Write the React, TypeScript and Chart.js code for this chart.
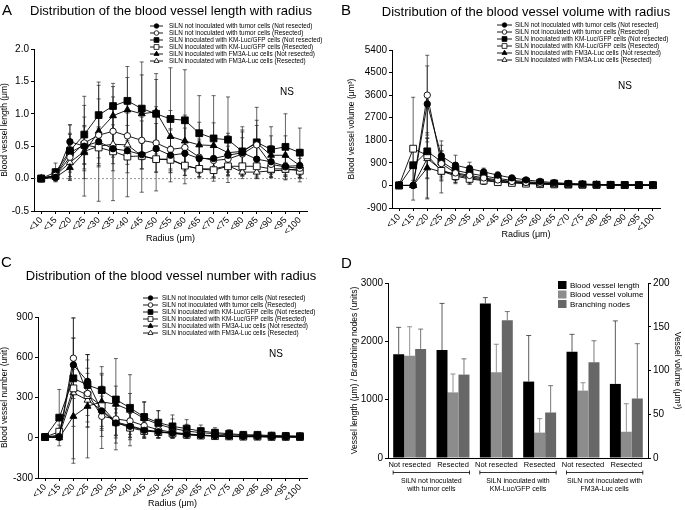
import React, { useEffect, useRef } from 'react';
import { Chart, registerables } from 'chart.js';

Chart.register(...registerables);

const FONT = '"Liberation Sans", Arial, Helvetica, sans-serif';
Chart.defaults.font.family = FONT;
Chart.defaults.color = '#000';

// ---------- shared ----------
const radiusLabels = ['<10', '<15', '<20', '<25', '<30', '<35', '<40', '<45', '<50', '<55', '<60', '<65', '<70', '<75', '<80', '<85', '<90', '<95', '<100'];
const seriesNames = [
  'SiLN not inoculated with tumor cells (Not resected)',
  'SiLN not inoculated with tumor cells (Resected)',
  'SiLN inoculated with KM-Luc/GFP cells (Not resected)',
  'SiLN inoculated with KM-Luc/GFP cells (Resected)',
  'SiLN inoculated with FM3A-Luc cells (Not resected)',
  'SiLN inoculated with FM3A-Luc cells (Resected)',
];

// ---------- A: blood vessel length ----------
const lengthNotInocNR = [0, 0.02, 0.57, 0.5, 0.57, 0.46, 0.43, 0.37, 0.46, 0.36, 0.39, 0.31, 0.31, 0.36, 0.4, 0.3, 0.26, 0.19, 0.2];
const lengthNotInocNRErr = [0, 0.05, 0.26, 0.77, 0.92, 0.8, 0.71, 0.58, 0.65, 0.41, 0.47, 0.3, 0.3, 0.3, 0.35, 0.3, 0.25, 0.2, 0.2];
const lengthNotInocR = [0, 0.05, 0.33, 0.55, 0.67, 0.73, 0.66, 0.59, 0.55, 0.45, 0.48, 0.33, 0.28, 0.3, 0.38, 0.52, 0.22, 0.18, 0.16];
const lengthNotInocRErr = [0, 0.1, 0.35, 0.4, 0.35, 0.4, 0.35, 0.3, 0.3, 0.3, 0.3, 0.25, 0.2, 0.2, 0.25, 0.3, 0.2, 0.15, 0.15];
const lengthKmNR = [0, 0.1, 0.43, 0.68, 0.98, 1.12, 1.2, 1.08, 1.0, 0.92, 0.9, 0.7, 0.62, 0.6, 0.42, 0.56, 0.45, 0.49, 0.4];
const lengthKmNRErr = [0, 0.14, 0.4, 0.45, 0.46, 0.35, 0.53, 0.72, 0.62, 0.79, 0.78, 0.58, 0.66, 0.66, 0.38, 0.54, 0.35, 0.51, 0.38];
const lengthKmR = [0, 0.05, 0.4, 0.52, 0.48, 0.42, 0.34, 0.35, 0.3, 0.29, 0.2, 0.15, 0.13, 0.19, 0.19, 0.19, 0.15, 0.15, 0.12];
const lengthKmRErr = [0, 0.08, 0.3, 0.3, 0.3, 0.3, 0.25, 0.2, 0.2, 0.2, 0.15, 0.12, 0.12, 0.15, 0.15, 0.15, 0.12, 0.1, 0.1];
const lengthFmNR = [0, 0.02, 0.17, 0.4, 0.73, 0.97, 1.06, 1.0, 1.03, 0.65, 0.58, 0.52, 0.51, 0.4, 0.42, 0.55, 0.36, 0.36, 0.2];
const lengthFmNRErr = [0, 0.05, 0.2, 0.4, 0.5, 0.45, 0.5, 0.6, 0.5, 0.4, 0.4, 0.35, 0.35, 0.3, 0.3, 0.35, 0.3, 0.3, 0.25];
const lengthFmR = [0, 0.05, 0.25, 0.42, 0.5, 0.53, 0.52, 0.35, 0.3, 0.3, 0.2, 0.15, 0.15, 0.2, 0.1, 0.1, 0.12, 0.13, 0.15];
const lengthFmRErr = [0, 0.08, 0.25, 0.3, 0.3, 0.3, 0.3, 0.2, 0.2, 0.2, 0.15, 0.12, 0.12, 0.15, 0.1, 0.1, 0.1, 0.1, 0.1];

// ---------- B: blood vessel volume ----------
const volNotInocNR = [0, 0, 3250, 1175, 805, 675, 540, 410, 300, 220, 160, 110, 80, 60, 40, 30, 25, 20, 15];
const volNotInocNRErr = [0, 0, 1515, 600, 400, 250, 150, 130, 100, 80, 60, 40, 30, 25, 20, 15, 12, 10, 8];
const volNotInocR = [0, 0, 3600, 870, 500, 400, 300, 220, 160, 120, 90, 65, 50, 40, 30, 25, 20, 15, 12];
const volNotInocRErr = [0, 0, 1590, 500, 300, 200, 150, 120, 90, 70, 50, 35, 25, 20, 15, 12, 10, 8, 6];
const volKmNR = [0, 805, 1360, 950, 600, 480, 380, 280, 200, 150, 110, 80, 55, 40, 30, 25, 20, 15, 12];
const volKmNRErr = [0, 600, 1900, 650, 300, 250, 200, 150, 100, 80, 60, 40, 30, 25, 20, 15, 12, 10, 8];
const volKmR = [0, 1465, 1200, 580, 370, 260, 190, 130, 100, 70, 50, 40, 30, 25, 20, 15, 12, 10, 8];
const volKmRErr = [0, 2050, 900, 400, 300, 200, 150, 100, 80, 60, 40, 30, 25, 20, 15, 12, 10, 8, 6];
const volFmNR = [0, 0, 700, 540, 475, 345, 260, 190, 140, 100, 70, 50, 40, 30, 25, 20, 15, 12, 10];
const volFmNRErr = [0, 0, 1200, 840, 350, 300, 200, 150, 100, 80, 60, 40, 30, 25, 20, 15, 12, 10, 8];
const volFmR = [0, 0, 1070, 620, 420, 300, 220, 160, 120, 90, 65, 50, 35, 28, 20, 15, 12, 10, 8];
const volFmRErr = [0, 0, 800, 400, 300, 200, 150, 120, 90, 70, 50, 35, 25, 20, 15, 12, 10, 8, 6];

// ---------- C: blood vessel number ----------
const numNotInocNR = [5, 5, 543, 420, 200, 110, 85, 55, 45, 35, 25, 18, 15, 12, 10, 10, 8, 8, 6];
const numNotInocNRErr = [0, 20, 200, 200, 280, 150, 100, 60, 50, 40, 30, 20, 15, 12, 10, 10, 8, 8, 6];
const numNotInocR = [5, 10, 593, 330, 160, 140, 125, 90, 60, 40, 30, 20, 15, 12, 10, 10, 8, 6, 6];
const numNotInocRErr = [0, 30, 300, 250, 150, 120, 100, 80, 60, 40, 30, 20, 15, 12, 10, 10, 8, 6, 6];
const numKmNR = [5, 150, 443, 393, 355, 285, 223, 155, 113, 85, 68, 50, 38, 30, 22, 22, 16, 14, 12];
const numKmNRErr = [0, 210, 300, 227, 175, 100, 107, 115, 90, 85, 67, 45, 37, 30, 20, 20, 15, 12, 10];
const numKmR = [5, 45, 368, 318, 235, 115, 75, 50, 42, 32, 22, 16, 12, 10, 8, 8, 6, 6, 5];
const numKmRErr = [0, 50, 525, 200, 150, 100, 70, 50, 40, 30, 20, 15, 12, 10, 8, 8, 6, 6, 5];
const numFmNR = [5, 0, 160, 235, 268, 250, 205, 143, 100, 70, 50, 38, 30, 22, 18, 16, 14, 12, 10];
const numFmNRErr = [0, 10, 350, 385, 200, 340, 265, 120, 100, 70, 50, 35, 30, 22, 18, 15, 14, 12, 10];
const numFmR = [5, 20, 335, 280, 205, 118, 90, 60, 45, 35, 25, 18, 14, 10, 8, 8, 6, 6, 5];
const numFmRErr = [0, 30, 250, 200, 150, 120, 90, 60, 45, 35, 25, 18, 14, 10, 8, 8, 6, 6, 5];

// ---------- D: bar summary ----------
const dCategories = ['Not resected', 'Resected', 'Not resected', 'Resected', 'Not resected', 'Resected'];
const dLength = [1780, 1850, 2650, 1310, 1820, 1270];
const dLengthErr = [460, 800, 100, 790, 300, 1080];
const dVolume = [117, 75, 98, 29, 77, 30];
const dVolumeErr = [33, 21, 32, 16, 9, 32];
const dNodes = [1870, 1430, 2360, 780, 1640, 1020];
const dNodesErr = [340, 270, 150, 460, 370, 940];
const dGroupLabels = [
  ['SiLN not inoculated', 'with tumor cells'],
  ['SiLN inoculated with', 'KM-Luc/GFP cells'],
  ['SiLN not inoculated with', 'FM3A-Luc cells'],
];
const dSeriesNames = ['Blood vessel length', 'Blood vessel volume', 'Branching nodes'];
const dColors = ['#000000', '#8c8c8c', '#676767'];

// ---------- styles ----------
type MarkerDef = { style: 'circle' | 'rect' | 'triangle'; filled: boolean; radius: number };
const markers: MarkerDef[] = [
  { style: 'circle', filled: true, radius: 3.2 },
  { style: 'circle', filled: false, radius: 3.2 },
  { style: 'rect', filled: true, radius: 4.8 },
  { style: 'rect', filled: false, radius: 4.8 },
  { style: 'triangle', filled: true, radius: 4 },
  { style: 'triangle', filled: false, radius: 4 },
];

function lineDatasets(values: number[][], errors: number[][]) {
  return values.map((data, i) => ({
    label: seriesNames[i],
    data,
    errors: errors[i],
    borderColor: '#000',
    borderWidth: 0.9,
    pointStyle: markers[i].style,
    pointRadius: markers[i].radius,
    pointHoverRadius: markers[i].radius,
    pointBackgroundColor: markers[i].filled ? '#000' : '#fff',
    pointBorderColor: '#000',
    pointBorderWidth: 0.9,
    tension: 0,
    fill: false,
  }));
}

function drawMarker(ctx: CanvasRenderingContext2D, m: MarkerDef, x: number, y: number, r: number) {
  ctx.beginPath();
  if (m.style === 'circle') {
    ctx.arc(x, y, r, 0, Math.PI * 2);
  } else if (m.style === 'rect') {
    const s = r * Math.SQRT1_2;
    ctx.rect(x - s, y - s, 2 * s, 2 * s);
  } else {
    let a = 0;
    ctx.moveTo(x + Math.sin(a) * r, y - Math.cos(a) * r);
    a += (2 * Math.PI) / 3;
    ctx.lineTo(x + Math.sin(a) * r, y - Math.cos(a) * r);
    a += (2 * Math.PI) / 3;
    ctx.lineTo(x + Math.sin(a) * r, y - Math.cos(a) * r);
  }
  ctx.closePath();
  ctx.fillStyle = m.filled ? '#000' : '#fff';
  ctx.fill();
  ctx.strokeStyle = '#000';
  ctx.lineWidth = 0.8;
  ctx.stroke();
}

function drawSeriesLegend(ctx: CanvasRenderingContext2D, x: number, y0: number, lineLen: number, textX: number, rowH: number) {
  ctx.save();
  ctx.font = `6.4px ${FONT}`;
  ctx.textBaseline = 'middle';
  ctx.textAlign = 'left';
  seriesNames.forEach((name, i) => {
    const y = y0 + i * rowH;
    ctx.strokeStyle = '#000';
    ctx.lineWidth = 0.9;
    ctx.beginPath();
    ctx.moveTo(x, y);
    ctx.lineTo(x + lineLen, y);
    ctx.stroke();
    const m = markers[i];
    drawMarker(ctx, m, x + lineLen / 2, y, m.style === 'rect' ? 3.4 : m.style === 'triangle' ? 2.9 : 2.3);
    ctx.fillStyle = '#000';
    ctx.fillText(name, textX, y + 0.3);
  });
  ctx.restore();
}

function drawText(ctx: CanvasRenderingContext2D, text: string, x: number, y: number, size: number, align: CanvasTextAlign = 'left', baseline: CanvasTextBaseline = 'alphabetic') {
  ctx.save();
  ctx.font = `${size}px ${FONT}`;
  ctx.fillStyle = '#000';
  ctx.textAlign = align;
  ctx.textBaseline = baseline;
  ctx.fillText(text, x, y);
  ctx.restore();
}

// ---------- error bar plugin ----------
function drawErrors(chart: any, opts: any) {
  const ctx: CanvasRenderingContext2D = chart.ctx;
  chart.data.datasets.forEach((ds: any, i: number) => {
    const errs: number[] | undefined = ds.errors;
    if (!errs) return;
    const meta = chart.getDatasetMeta(i);
    const yScale = chart.scales[meta.yAxisID];
    meta.data.forEach((el: any, j: number) => {
      const v = ds.data[j];
      const e = errs[j];
      if (!e) return;
      const x = el.x;
      const yTop = yScale.getPixelForValue(v + e);
      const yBot = opts.upOnly ? yScale.getPixelForValue(v) : yScale.getPixelForValue(v - e);
      ctx.save();
      ctx.strokeStyle = ds.errorColor || opts.color;
      ctx.lineWidth = opts.width;
      ctx.beginPath();
      ctx.moveTo(x, yTop);
      ctx.lineTo(x, yBot);
      ctx.moveTo(x - opts.cap, yTop);
      ctx.lineTo(x + opts.cap, yTop);
      if (!opts.upOnly) {
        ctx.moveTo(x - opts.cap, yBot);
        ctx.lineTo(x + opts.cap, yBot);
      }
      ctx.stroke();
      ctx.restore();
    });
  });
}

const errorBarPlugin = {
  id: 'errorBars',
  beforeDatasetsDraw(chart: any, _args: any, opts: any) {
    if (opts && opts.layer === 'before') drawErrors(chart, opts);
  },
  afterDatasetsDraw(chart: any, _args: any, opts: any) {
    if (opts && opts.layer === 'after') drawErrors(chart, opts);
  },
};

// ---------- line panel config ----------
type LinePanel = {
  values: number[][];
  errors: number[][];
  min: number;
  max: number;
  step: number;
  decimals: boolean;
  yTitle: string;
  yWidth: number;
  xHeight: number;
  padding: { left: number; top: number; right: number; bottom: number };
  yTitlePad: number;
  xTitlePad: number;
  dashedZero: boolean;
  decor: (ctx: CanvasRenderingContext2D) => void;
};

const axisGrid = { display: true, drawOnChartArea: false, drawTicks: true, tickLength: 3, color: '#000', lineWidth: 1 };
const axisBorder = { display: true, color: '#000', width: 1 };

function lineConfig(p: LinePanel): any {
  const decorPlugin = {
    id: 'decor',
    beforeDatasetsDraw(chart: any) {
      if (!p.dashedZero) return;
      const ctx: CanvasRenderingContext2D = chart.ctx;
      const y = chart.scales.y.getPixelForValue(0);
      ctx.save();
      ctx.strokeStyle = '#666';
      ctx.lineWidth = 0.7;
      ctx.setLineDash([2, 2]);
      ctx.beginPath();
      ctx.moveTo(chart.chartArea.left, y);
      ctx.lineTo(chart.chartArea.right, y);
      ctx.stroke();
      ctx.restore();
    },
    afterDraw(chart: any) {
      p.decor(chart.ctx);
    },
  };
  return {
    type: 'line',
    data: { labels: radiusLabels, datasets: lineDatasets(p.values, p.errors) },
    options: {
      responsive: false,
      animation: false,
      events: [],
      layout: { padding: p.padding },
      plugins: {
        legend: { display: false },
        tooltip: { enabled: false },
        title: { display: false },
        errorBars: { layer: 'before', upOnly: false, cap: 2, color: '#222', width: 0.7 },
      },
      scales: {
        x: {
          type: 'category',
          offset: true,
          grid: axisGrid,
          border: axisBorder,
          ticks: { autoSkip: false, minRotation: 45, maxRotation: 45, padding: 1, font: { size: 9 }, color: '#000' },
          title: { display: true, text: 'Radius (μm)', font: { size: 9 }, color: '#000', padding: { top: 0, bottom: p.xTitlePad } },
          afterFit: (s: any) => {
            s.height = p.xHeight;
          },
        },
        y: {
          min: p.min,
          max: p.max,
          grid: axisGrid,
          border: axisBorder,
          ticks: {
            stepSize: p.step,
            font: { size: 10 },
            color: '#000',
            padding: 2,
            callback: (v: any) => (p.decimals ? Number(v).toFixed(1) : String(Math.round(Number(v)))),
          },
          title: { display: true, text: p.yTitle, font: { size: 8.5 }, color: '#000', padding: { top: p.yTitlePad, bottom: 0 } },
          afterFit: (s: any) => {
            s.width = p.yWidth;
          },
        },
      },
    },
    plugins: [errorBarPlugin, decorPlugin],
  };
}

const configA = () =>
  lineConfig({
    values: [lengthNotInocNR, lengthNotInocR, lengthKmNR, lengthKmR, lengthFmNR, lengthFmR],
    errors: [lengthNotInocNRErr, lengthNotInocRErr, lengthKmNRErr, lengthKmRErr, lengthFmNRErr, lengthFmRErr],
    min: -0.5,
    max: 2,
    step: 0.5,
    decimals: true,
    yTitle: 'Blood vessel length (μm)',
    yWidth: 34,
    xHeight: 34,
    padding: { left: 0, top: 49, right: 33, bottom: 10 },
    yTitlePad: 0,
    xTitlePad: 1,
    dashedZero: true,
    decor: (ctx) => {
      drawText(ctx, 'A', 2, 15, 15);
      drawText(ctx, 'Distribution of the blood vessel length with radius', 171, 15, 13, 'center');
      drawSeriesLegend(ctx, 150, 26, 13, 169, 7);
      drawText(ctx, 'NS', 287, 92, 10, 'center', 'middle');
    },
  });

const configB = () =>
  lineConfig({
    values: [volNotInocNR, volNotInocR, volKmNR, volKmR, volFmNR, volFmR],
    errors: [volNotInocNRErr, volNotInocRErr, volKmNRErr, volKmRErr, volFmNRErr, volFmRErr],
    min: -900,
    max: 5400,
    step: 900,
    decimals: false,
    yTitle: 'Blood vessel volume (μm³)',
    yWidth: 52,
    xHeight: 33,
    padding: { left: 0, top: 50, right: 25, bottom: 14 },
    yTitlePad: 7,
    xTitlePad: 1,
    dashedZero: false,
    decor: (ctx) => {
      drawText(ctx, 'B', 1, 15, 15);
      drawText(ctx, 'Distribution of the blood vessel volume with radius', 186, 16, 13, 'center');
      drawSeriesLegend(ctx, 157, 25, 15, 175, 7);
      drawText(ctx, 'NS', 285, 86, 10, 'center', 'middle');
    },
  });

const configC = () =>
  lineConfig({
    values: [numNotInocNR, numNotInocR, numKmNR, numKmR, numFmNR, numFmR],
    errors: [numNotInocNRErr, numNotInocRErr, numKmNRErr, numKmRErr, numFmNRErr, numFmRErr],
    min: -300,
    max: 900,
    step: 300,
    decimals: false,
    yTitle: 'Blood vessel number (unit)',
    yWidth: 38,
    xHeight: 32,
    padding: { left: 0, top: 62, right: 33, bottom: 0 },
    yTitlePad: 0,
    xTitlePad: 1,
    dashedZero: false,
    decor: (ctx) => {
      drawText(ctx, 'C', 1, 12, 15);
      drawText(ctx, 'Distribution of the blood vessel number with radius', 171, 25, 13, 'center');
      drawSeriesLegend(ctx, 143, 43, 15, 162, 7);
      drawText(ctx, 'NS', 276, 99, 10, 'center', 'middle');
    },
  });

const configD = (): any => {
  const decorPlugin = {
    id: 'decorD',
    afterDraw(chart: any) {
      const ctx: CanvasRenderingContext2D = chart.ctx;
      drawText(ctx, 'D', 1, 13, 15);
      // legend
      ctx.save();
      dSeriesNames.forEach((name, i) => {
        const y = 30 + i * 9.5;
        ctx.fillStyle = dColors[i];
        ctx.fillRect(218, y - 4, 8.5, 8);
        drawText(ctx, name, 230, y + 0.5, 8, 'left', 'middle');
      });
      ctx.restore();
      // group brackets
      const xs = chart.scales.x;
      const half = 16.5;
      dGroupLabels.forEach((lines, g) => {
        const x0 = xs.getPixelForValue(g * 2) - half;
        const x1 = xs.getPixelForValue(g * 2 + 1) + half;
        const y = 217.5;
        ctx.save();
        ctx.strokeStyle = '#000';
        ctx.lineWidth = 0.8;
        ctx.beginPath();
        ctx.moveTo(x0, y);
        ctx.lineTo(x1, y);
        ctx.moveTo(x0, y - 2);
        ctx.lineTo(x0, y + 2);
        ctx.moveTo(x1, y - 2);
        ctx.lineTo(x1, y + 2);
        ctx.stroke();
        ctx.restore();
        const cx = (x0 + x1) / 2;
        drawText(ctx, lines[0], cx, 226, 7, 'center', 'middle');
        drawText(ctx, lines[1], cx, 234.5, 7, 'center', 'middle');
      });
    },
  };
  const values = [dLength, dVolume, dNodes];
  const errs = [dLengthErr, dVolumeErr, dNodesErr];
  const errColors = ['#333', '#777', '#555'];
  return {
    type: 'bar',
    data: {
      labels: dCategories,
      datasets: values.map((data, i) => ({
        label: dSeriesNames[i],
        data,
        errors: errs[i],
        errorColor: errColors[i],
        backgroundColor: dColors[i],
        borderWidth: 0,
        yAxisID: i === 1 ? 'y1' : 'y',
        categoryPercentage: 0.76,
        barPercentage: 1.0,
      })),
    },
    options: {
      responsive: false,
      animation: false,
      events: [],
      layout: { padding: { left: 6, top: 28, right: 0, bottom: 32 } },
      plugins: {
        legend: { display: false },
        tooltip: { enabled: false },
        title: { display: false },
        errorBars: { layer: 'after', upOnly: true, cap: 2.5, color: '#333', width: 0.8 },
      },
      scales: {
        x: {
          offset: true,
          grid: { display: false, drawTicks: false, tickLength: 0 },
          border: axisBorder,
          ticks: { autoSkip: false, maxRotation: 0, minRotation: 0, padding: 2, font: { size: 7.5 }, color: '#000' },
          afterFit: (s: any) => {
            s.height = 20;
          },
        },
        y: {
          position: 'left',
          min: 0,
          max: 3000,
          grid: axisGrid,
          border: axisBorder,
          ticks: { stepSize: 1000, font: { size: 10 }, color: '#000', padding: 2, callback: (v: any) => String(Math.round(Number(v))) },
          title: { display: true, text: 'Vessel length (μm) / Branching nodes (units)', font: { size: 8.5 }, color: '#000', padding: { top: 4, bottom: 0 } },
          afterFit: (s: any) => {
            s.width = 42;
          },
        },
        y1: {
          position: 'right',
          min: 0,
          max: 200,
          grid: axisGrid,
          border: axisBorder,
          ticks: { stepSize: 50, font: { size: 10 }, color: '#000', padding: 2, callback: (v: any) => String(Math.round(Number(v))) },
          title: { display: true, text: 'Vessel volume (μm³)', font: { size: 8.5 }, color: '#000', padding: { top: 3, bottom: 0 } },
          afterFit: (s: any) => {
            s.width = 37;
          },
        },
      },
    },
    plugins: [errorBarPlugin, decorPlugin],
  };
};

function Panel({ make, left, top, width, height }: { make: () => any; left: number; top: number; width: number; height: number }) {
  const ref = useRef<HTMLCanvasElement>(null);
  useEffect(() => {
    if (!ref.current) return;
    const chart = new Chart(ref.current, make());
    return () => chart.destroy();
  }, []);
  return <canvas ref={ref} width={width} height={height} style={{ position: 'absolute', left, top, width, height }} />;
}

export default function App() {
  return (
    <div style={{ position: 'absolute', left: 0, top: 0, width: 685, height: 510, background: '#fff', overflow: 'hidden' }}>
      <Panel make={configA} left={0} top={0} width={340} height={255} />
      <Panel make={configB} left={340} top={0} width={345} height={255} />
      <Panel make={configC} left={0} top={255} width={340} height={255} />
      <Panel make={configD} left={340} top={255} width={345} height={255} />
    </div>
  );
}
